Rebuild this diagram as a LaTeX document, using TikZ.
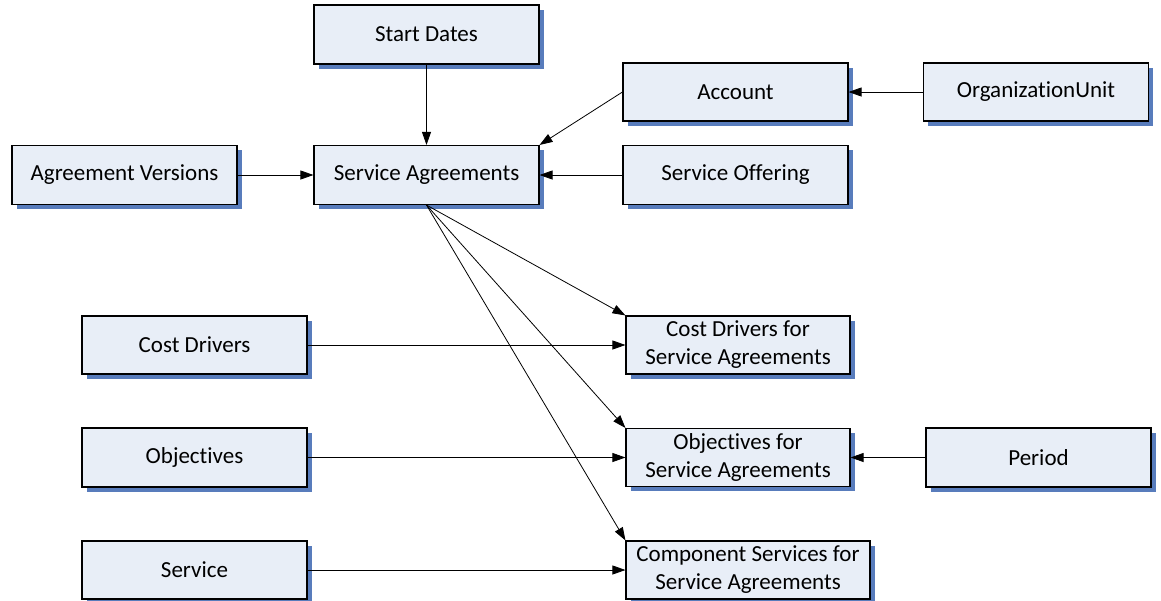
\documentclass[tikz,border=0pt]{standalone}
\usepackage{fontspec}
\setmainfont{Carlito}[Ligatures={NoCommon}]
\usetikzlibrary{arrows.meta,shadows}
\definecolor{boxfill}{RGB}{232,238,247}
\definecolor{shadowblue}{RGB}{88,124,188}
\tikzset{
  box/.style={draw=black, line width=1.1pt, fill=boxfill, inner sep=0pt,
    align=center, font=\fontsize{23}{28}\selectfont,
    drop shadow={shadow xshift=4.5pt, shadow yshift=-4.5pt, fill=shadowblue, opacity=1}},
  conn/.style={draw=black, line width=0.8pt, -{Triangle[length=13pt,width=9pt]}}
}
\begin{document}
\begin{tikzpicture}[x=1pt,y=-1pt]
\useasboundingbox (0,0) rectangle (1161,600);
\node[box, minimum width=225pt, minimum height=59pt] (sd) at (426.5,34.5) {Start Dates};
\node[box, minimum width=225pt, minimum height=59pt] (sa) at (426.5,175) {Service Agreements};
\node[box, minimum width=225pt, minimum height=59pt] (av) at (124.5,175) {Agreement Versions};
\node[box, minimum width=225pt, minimum height=58pt] (ac) at (735.5,92) {Account};
\node[box, minimum width=225pt, minimum height=58pt] (ou) at (1036,92) {OrganizationUnit};
\node[box, minimum width=225pt, minimum height=59pt] (so) at (735.5,175) {Service Offering};
\node[box, minimum width=225pt, minimum height=58pt] (cd) at (194.5,345) {Cost Drivers};
\node[box, minimum width=224pt, minimum height=58pt] (cdsa) at (738,345) {Cost Drivers for\\Service Agreements};
\node[box, minimum width=225pt, minimum height=59pt] (ob) at (194.5,457.5) {Objectives};
\node[box, minimum width=224pt, minimum height=58pt] (obsa) at (738,457.5) {Objectives for\\Service Agreements};
\node[box, minimum width=225pt, minimum height=59pt] (pe) at (1038.5,457.5) {Period};
\node[box, minimum width=225pt, minimum height=58pt] (se) at (194.5,570) {Service};
\node[box, minimum width=244pt, minimum height=58pt] (cssa) at (748,570) {Component Services for\\Service Agreements};
\draw[conn] (sd) -- (sa);
\draw[conn] (av) -- (sa);
\draw[conn] (ac.west) -- (sa.north east);
\draw[conn] (ou) -- (ac);
\draw[conn] (so) -- (sa);
\draw[conn] (sa.south) -- (cdsa.north west);
\draw[conn] (sa.south) -- (obsa.north west);
\draw[conn] (sa.south) -- (cssa.north west);
\draw[conn] (cd) -- (cdsa);
\draw[conn] (ob) -- (obsa);
\draw[conn] (se) -- (cssa.west |- se);
\draw[conn] (pe) -- (obsa);
\end{tikzpicture}
\end{document}
